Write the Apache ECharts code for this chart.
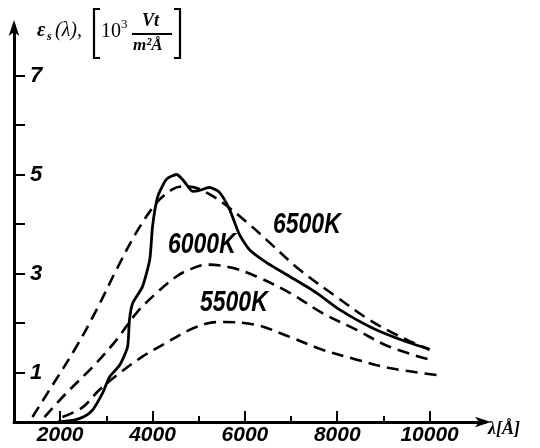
<!DOCTYPE html>
<html><head><meta charset="utf-8">
<script src="https://cdn.jsdelivr.net/npm/echarts@6/dist/echarts.min.js"></script>
<style>html,body{margin:0;padding:0;background:#fff}#c{width:540px;height:448px}</style>
</head><body><div id="c"></div>
<script>
// wavelength (Å) and spectral density (10^3 W/(m^2 Å))
const x6500 = [1400,1770,2350,2790,3220,3650,4090,4430,4650,4900,5200,5520,6100,6470,7180,7980,8700,9200,9600,10000];
const y6500 = [0.10,0.65,1.52,2.27,3.08,3.83,4.43,4.70,4.76,4.74,4.62,4.43,3.99,3.68,3.08,2.53,2.06,1.80,1.62,1.46];
const x6000 = [1660,2140,2700,3220,3650,4090,4520,4800,5200,5700,6250,6970,7680,8420,9130,10000];
const y6000 = [0.10,0.59,1.11,1.66,2.20,2.61,2.94,3.08,3.18,3.12,2.94,2.61,2.20,1.86,1.52,1.26];
const x5500 = [2050,2490,2850,3290,3780,4300,4800,5230,5520,6250,6970,7680,8420,9130,10150];
const y5500 = [0.10,0.30,0.65,0.99,1.32,1.60,1.86,2.00,2.02,1.96,1.72,1.46,1.26,1.09,0.95];
const xSun = [1950,2300,2500,2700,2920,3070,3290,3460,3500,3570,3780,3940,4000,4110,4300,4520,4650,4800,4870,5020,5230,5450,5670,5880,6100,6470,6970,7550,8050,8760,9500,10000];
const ySun = [0.00,0.04,0.10,0.24,0.59,0.91,1.15,1.52,2.06,2.40,2.73,3.28,3.95,4.55,4.90,5.00,4.90,4.72,4.66,4.68,4.74,4.64,4.29,3.79,3.48,3.22,2.94,2.61,2.27,1.90,1.62,1.47];
const xTickLabels = [2000,4000,6000,8000,10000];
const xMinorTicks = [3000,5000,7000,9000];
const yTicks = [1,2,3,4,5,6,7];
const yTickLabels = [1,3,5,7];
const curveNames = ['6500K','6000K','5500K'];

const zip = (xs, ys) => xs.map((v, i) => [v, ys[i]]);
const chart = echarts.init(document.getElementById('c'));
const ink = '#000';
const labelFont = {fontFamily: 'Liberation Sans, Arial, sans-serif', fontStyle: 'italic', fontWeight: 'bold'};
const serif = '"Liberation Serif", "DejaVu Serif", serif';

const dashed = (name, data) => ({
  name, type: 'line', data, smooth: 0.35, symbol: 'none', silent: true,
  lineStyle: {color: ink, width: 2.6, type: [12, 7]}
});

chart.setOption({
  animation: false,
  backgroundColor: '#fff',
  grid: {left: 14, right: 55, top: 26, bottom: 26, containLabel: false},
  xAxis: [{
    type: 'value', min: 1000, max: 11200,
    axisLine: {show: true, lineStyle: {color: ink, width: 3}, symbol: ['none', 'arrow'], symbolSize: [8, 16], symbolOffset: [0, 6]},
    axisTick: {show: true, inside: true, length: 11, lineStyle: {color: ink, width: 2}, customValues: xTickLabels},
    axisLabel: Object.assign({show: true, color: ink, fontSize: 21, margin: 3, customValues: xTickLabels, formatter: v => String(v)}, labelFont),
    splitLine: {show: false}
  }, {
    type: 'value', min: 1000, max: 11200, position: 'bottom',
    axisLine: {show: false},
    axisTick: {show: true, inside: true, length: 6, lineStyle: {color: ink, width: 2}, customValues: xMinorTicks},
    axisLabel: {show: false},
    splitLine: {show: false}
  }],
  yAxis: {
    type: 'value', min: 0, max: 8,
    axisLine: {show: true, lineStyle: {color: ink, width: 3}, symbol: ['none', 'arrow'], symbolSize: [8, 16], symbolOffset: [0, 6]},
    axisTick: {show: true, inside: true, length: 11, lineStyle: {color: ink, width: 2}, customValues: yTicks},
    axisLabel: Object.assign({show: true, inside: true, color: ink, fontSize: 22, margin: 16, customValues: yTickLabels, formatter: v => String(v)}, labelFont),
    splitLine: {show: false}
  },
  series: [
    dashed(curveNames[0], zip(x6500, y6500)),
    dashed(curveNames[1], zip(x6000, y6000)),
    dashed(curveNames[2], zip(x5500, y5500)),
    {name: 'Sun', type: 'line', data: zip(xSun, ySun), smooth: 0.2, symbol: 'none', silent: true,
     lineStyle: {color: ink, width: 2.8}}
  ],
  graphic: [
    {type: 'text', left: 273, top: 211, scaleY: 1.25, style: Object.assign({text: curveNames[0], fill: ink, fontSize: 23}, labelFont)},
    {type: 'text', left: 168, top: 231, scaleY: 1.25, style: Object.assign({text: curveNames[1], fill: ink, fontSize: 23}, labelFont)},
    {type: 'text', left: 200, top: 289, scaleY: 1.25, style: Object.assign({text: curveNames[2], fill: ink, fontSize: 23}, labelFont)},
    // axis title
    {type: 'text', left: 37, top: 21, style: {text: 'ε', fill: ink, font: 'italic bold 20px ' + serif}},
    {type: 'text', left: 47, top: 31, style: {text: 's', fill: ink, font: 'italic bold 12px ' + serif}},
    {type: 'text', left: 55, top: 21, style: {text: '(λ),', fill: ink, font: 'italic 20px ' + serif}},
    {type: 'polyline', shape: {points: [[100, 9], [94, 9], [94, 58], [100, 58]]}, style: {stroke: ink, lineWidth: 2.2, fill: null}},
    {type: 'polyline', shape: {points: [[174, 9], [180, 9], [180, 58], [174, 58]]}, style: {stroke: ink, lineWidth: 2.2, fill: null}},
    {type: 'text', left: 101, top: 22, style: {text: '10', fill: ink, font: '20px ' + serif}},
    {type: 'text', left: 121, top: 18, style: {text: '3', fill: ink, font: '13px ' + serif}},
    {type: 'text', left: 142, top: 12, style: {text: 'Vt', fill: ink, font: 'italic bold 18px ' + serif}},
    {type: 'line', shape: {x1: 132, y1: 34, x2: 172, y2: 34}, style: {stroke: ink, lineWidth: 1.8}},
    {type: 'text', left: 133, top: 37, style: {text: 'm²Å', fill: ink, font: 'italic bold 17px ' + serif}},
    // x axis name
    {type: 'text', left: 488, top: 420, style: {text: 'λ[Å]', fill: ink, font: 'italic bold 18px ' + serif}}
  ]
});
</script>
</body></html>
